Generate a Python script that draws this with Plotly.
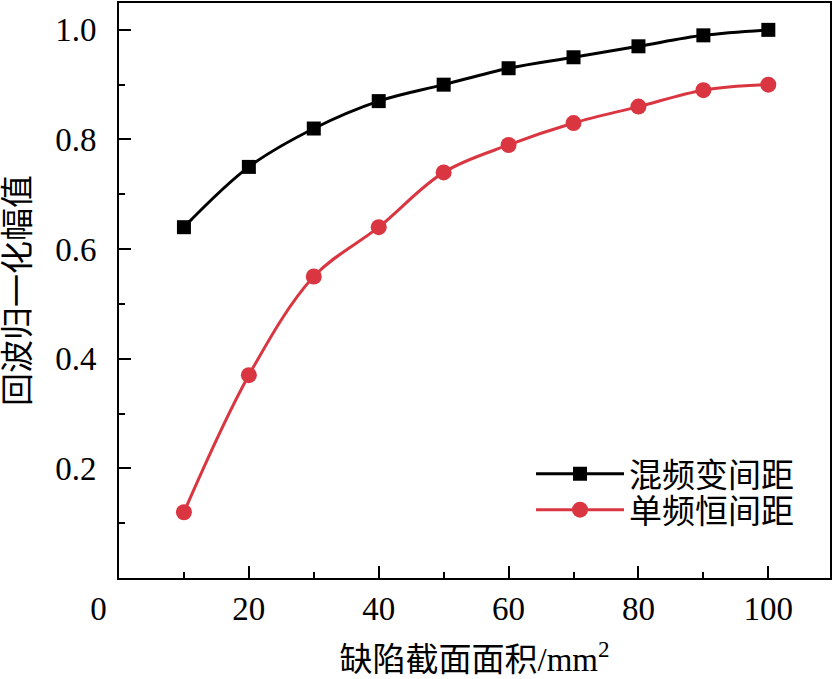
import plotly.graph_objects as go

area = [10, 20, 30, 40, 50, 60, 70, 80, 90, 100]
mixed = [0.64, 0.75, 0.82, 0.87, 0.90, 0.93, 0.95, 0.97, 0.99, 1.00]
single = [0.12, 0.37, 0.55, 0.64, 0.74, 0.79, 0.83, 0.86, 0.89, 0.90]
names = ["混频变间距", "单频恒间距"]
xtickvals = [0, 20, 40, 60, 80, 100]
xticktext = ["0\u00a0\u00a0\u00a0\u00a0\u00a0", "20", "40", "60", "80", "100"]
ytickvals = [0.2, 0.4, 0.6, 0.8, 1.0]
yticktext = ["0.2", "0.4", "0.6", "0.8", "1.0"]

RED = "#DA3641"
NUMFONT = "Liberation Serif, Times New Roman, serif"
CJK = "Liberation Serif, Noto Sans CJK SC, serif"

fig = go.Figure()
fig.add_trace(go.Scatter(x=area, y=mixed, name=names[0], mode="lines+markers",
                         line=dict(color="black", width=3, shape="spline", smoothing=1),
                         marker=dict(symbol="square", size=14, color="black"),
                         legend="legend"))
fig.add_trace(go.Scatter(x=area, y=single, name=names[1], mode="lines+markers",
                         line=dict(color=RED, width=3, shape="spline", smoothing=1),
                         marker=dict(symbol="circle", size=16, color=RED),
                         legend="legend2"))

leg_common = dict(xanchor="left", yanchor="top", bgcolor="rgba(0,0,0,0)", itemwidth=88,
                  font=dict(family=CJK, size=33))

fig.update_layout(
    width=834, height=679,
    margin=dict(l=119, r=4, t=1, b=101),
    plot_bgcolor="white", paper_bgcolor="white",
    font=dict(family=CJK, size=32, color="black"),
    showlegend=True,
    legend=dict(x=0.5795, y=0.2298, **leg_common),
    legend2=dict(x=0.5795, y=0.1674, **leg_common),
    xaxis=dict(range=[0, 109.5], tickmode="array", tickvals=xtickvals, ticktext=xticktext,
               ticks="inside", ticklen=12, tickwidth=2, tickcolor="black",
               showline=True, mirror=True, linecolor="black", linewidth=2,
               showgrid=False, zeroline=False,
               tickfont=dict(family=NUMFONT, size=33),
               minor=dict(tickmode="array", tickvals=[10, 30, 50, 70, 90], ticks="inside",
                          ticklen=6, tickwidth=2, tickcolor="black"),
               title=dict(text="缺陷截面面积/mm<sup>2</sup>", font=dict(family=CJK, size=33), standoff=22)),
    yaxis=dict(range=[0, 1.049], tickmode="array", tickvals=ytickvals, ticktext=yticktext,
               ticks="inside", ticklen=12, tickwidth=2, tickcolor="black",
               showline=True, mirror=True, linecolor="black", linewidth=2,
               showgrid=False, zeroline=False,
               tickfont=dict(family=NUMFONT, size=33), ticklabelstandoff=14,
               minor=dict(tickmode="array", tickvals=[0.1, 0.3, 0.5, 0.7, 0.9], ticks="inside",
                          ticklen=6, tickwidth=2, tickcolor="black"),
               title=dict(text="回波归一化幅值", font=dict(family=CJK, size=33), standoff=16)),
)

fig.write_html("out.html", config={"displayModeBar": False},
               post_script="document.body.style.margin='0';")
